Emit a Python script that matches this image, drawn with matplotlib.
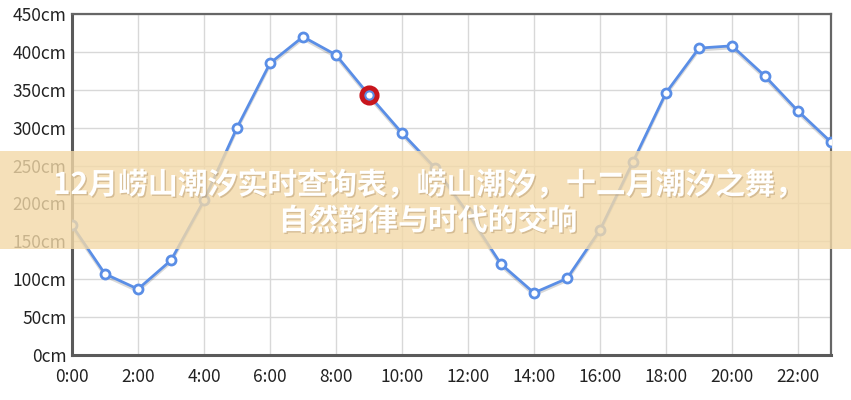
import matplotlib
matplotlib.use('Agg')
import matplotlib.pyplot as plt
import matplotlib.patheffects as pe
from matplotlib.patches import Rectangle

plt.rcParams['font.family'] = ['Noto Sans CJK SC', 'DejaVu Sans']

# tide data (hourly)
hours = list(range(24))
tide_cm = [171, 107, 87, 125, 204, 300, 385, 420, 396, 343, 293, 247,
           187, 120, 82, 101, 165, 255, 346, 405, 408, 368, 322, 281]
hour_ticks = list(range(0, 24, 2))
hour_labels = [f'{h}:00' for h in hour_ticks]
cm_ticks = list(range(0, 451, 50))
highlight_hour = 9

title_line1 = '12月崂山潮汐实时查询表，崂山潮汐，十二月潮汐之舞，'
title_line2 = '自然韵律与时代的交响'

line_color = '#5A8EE6'

fig = plt.figure(figsize=(8.51, 4.0), dpi=100)
fig.patch.set_facecolor('white')
ax = fig.add_axes([72 / 851, 45 / 400, (831 - 72) / 851, (355 - 14) / 400])

# line with a soft shadow
ax.plot(hours, tide_cm, color=line_color, linewidth=2, zorder=3,
        path_effects=[pe.SimpleLineShadow(offset=(0, -1.5), shadow_color='#000000', alpha=0.15),
                      pe.Normal()])
ax.plot(hours, tide_cm, linestyle='none', marker='o', markersize=6.5,
        markerfacecolor='white', markeredgecolor=line_color, markeredgewidth=2, zorder=4)

# highlighted current point
ax.plot([highlight_hour], [tide_cm[highlight_hour]], linestyle='none', marker='o',
        markersize=11, markerfacecolor='none', markeredgecolor='#C8161D',
        markeredgewidth=3.5, zorder=5)

ax.set_xlim(0, 23)
ax.set_ylim(0, 450)
ax.set_xticks(hour_ticks)
ax.set_xticklabels(hour_labels)
ax.set_yticks(cm_ticks)
ax.set_yticklabels([f'{v}cm' for v in cm_ticks])
ax.tick_params(axis='both', labelsize=12.5, colors='#222222', length=0)
ax.tick_params(axis='x', pad=9)
ax.tick_params(axis='y', pad=4)
ax.grid(True, color='#D8D8D8', linewidth=1)
ax.set_axisbelow(True)
for side in ['left', 'bottom']:
    ax.spines[side].set_color('#5A5A5A')
    ax.spines[side].set_linewidth(2.2)
for side in ['top', 'right']:
    ax.spines[side].set_color('#666666')
    ax.spines[side].set_linewidth(1.6)

# title banner across the chart
banner = Rectangle((0, 1 - 249 / 400), 1, (249 - 151) / 400, transform=fig.transFigure,
                   facecolor='#F3D9A8', alpha=0.8, edgecolor='none', zorder=10)
fig.patches.append(banner)

text_fx = [pe.withSimplePatchShadow(offset=(1, -1), shadow_rgbFace='#9A7A50', alpha=0.35)]
fig.text(429 / 851, 1 - 185 / 400, title_line1, ha='center', va='center', color='white',
         fontsize=21.5, fontweight='bold', zorder=11, path_effects=text_fx)
fig.text(428 / 851, 1 - 221 / 400, title_line2, ha='center', va='center', color='white',
         fontsize=21.5, fontweight='bold', zorder=11, path_effects=text_fx)

fig.savefig('out.png', dpi=100, facecolor='white')
plt.close(fig)
